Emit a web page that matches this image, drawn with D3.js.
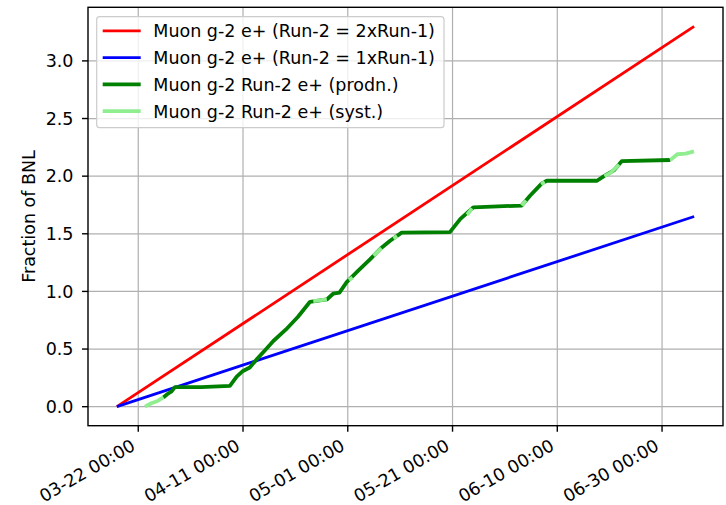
<!DOCTYPE html>
<html>
<head>
<meta charset="utf-8">
<script src="https://cdn.jsdelivr.net/npm/d3@7"></script>
<style>
  body { margin: 0; background: #fff; }
  svg { display: block; font-family: "DejaVu Sans", sans-serif; }
</style>
</head>
<body>
<svg id="chart" width="726" height="505"></svg>
<script>
// expected luminosity lines (start and end of the run)
const runDates = ['2019-03-17 22:00', '2019-07-06 03:00'];
const twoTimesRun1 = [0, 3.3];
const oneTimesRun1 = [0, 1.65];

// production running, cumulative fraction of BNL
const prodnDates = [
  '2019-03-26 19:00', '2019-03-27 14:00', '2019-03-28 07:00', '2019-03-29 00:00',
  '2019-04-03 00:00', '2019-04-08 12:00', '2019-04-09 19:00', '2019-04-11 00:00',
  '2019-04-12 07:00', '2019-04-13 19:00', '2019-04-15 05:00', '2019-04-16 19:00',
  '2019-04-19 05:00', '2019-04-21 12:00', '2019-04-23 19:00', '2019-04-27 00:00',
  '2019-04-28 05:00', '2019-04-29 10:00', '2019-04-30 19:00', '2019-05-03 00:00',
  '2019-05-05 07:00', '2019-05-07 05:00', '2019-05-09 02:00', '2019-05-11 07:00',
  '2019-05-20 12:00', '2019-05-22 12:00', '2019-05-25 00:00', '2019-06-03 05:00',
  '2019-06-04 19:00', '2019-06-07 00:00', '2019-06-08 00:00', '2019-06-17 14:00',
  '2019-06-18 22:00', '2019-06-20 19:00', '2019-06-22 07:00', '2019-07-01 14:00'
];
const prodnValues = [
  0.08, 0.11, 0.13, 0.17,
  0.17, 0.18, 0.26, 0.31,
  0.34, 0.42, 0.49, 0.57,
  0.67, 0.78, 0.91, 0.93,
  0.98, 0.99, 1.08, 1.18,
  1.28, 1.37, 1.44, 1.51,
  1.515, 1.63, 1.73, 1.745,
  1.83, 1.935, 1.96, 1.96,
  2.00, 2.05, 2.13, 2.14
];

// systematics running, null separates the stretches
const systDates = [
  '2019-03-23 07:00', '2019-03-24 12:00', '2019-03-25 17:00', '2019-03-26 19:00', null,
  '2019-04-24 10:00', '2019-04-27 00:00', null,
  '2019-05-01 05:00', '2019-05-01 22:00', null,
  '2019-05-05 22:00', '2019-05-07 10:00', null,
  '2019-05-09 17:00', '2019-05-10 10:00', null,
  '2019-05-23 19:00', '2019-05-24 17:00', null,
  '2019-06-03 05:00', '2019-06-04 00:00', null,
  '2019-06-06 22:00', '2019-06-07 14:00', null,
  '2019-06-19 00:00', '2019-06-20 05:00', '2019-06-21 19:00', null,
  '2019-07-01 14:00', '2019-07-02 22:00', '2019-07-04 12:00', '2019-07-06 02:00'
];
const systValues = [
  0.0, 0.03, 0.05, 0.08, null,
  0.915, 0.93, null,
  1.10, 1.12, null,
  1.31, 1.375, null,
  1.46, 1.48, null,
  1.665, 1.72, null,
  1.745, 1.79, null,
  1.93, 1.95, null,
  2.00, 2.03, 2.10, null,
  2.14, 2.19, 2.195, 2.215
];

const xTickDates = ['2019-03-22 00:00', '2019-04-11 00:00', '2019-05-01 00:00',
  '2019-05-21 00:00', '2019-06-10 00:00', '2019-06-30 00:00'];
const yTicks = [0, 0.5, 1.0, 1.5, 2.0, 2.5, 3.0];

const legendLabels = [
  'Muon g-2 e+ (Run-2 = 2xRun-1)',
  'Muon g-2 e+ (Run-2 = 1xRun-1)',
  'Muon g-2 Run-2 e+ (prodn.)',
  'Muon g-2 Run-2 e+ (syst.)'
];
const legendColors = ['#ff0000', '#0000ff', '#008000', '#90ee90'];
const legendWidths = [2.8, 2.8, 3.8, 3.8];

const parse = d3.timeParse('%Y-%m-%d %H:%M');
const fmt = d3.timeFormat('%m-%d %H:%M');

const plotLeft = 88, plotRight = 723, plotTop = 7.3, plotBottom = 425.7;
const svg = d3.select('#chart');

// matplotlib style 5% margins
const t0 = parse(runDates[0]), t1 = parse(runDates[1]);
const pad = (t1 - t0) * 0.05;
const x = d3.scaleTime()
  .domain([new Date(+t0 - pad), new Date(+t1 + pad)])
  .range([plotLeft, plotRight]);
const yMax = d3.max(twoTimesRun1);
const y = d3.scaleLinear()
  .domain([-yMax * 0.05, yMax * 1.05])
  .range([plotBottom, plotTop]);

// grid
const grid = svg.append('g').attr('stroke', '#b0b0b0').attr('stroke-width', 1.2);
grid.selectAll('line.gx')
  .data(xTickDates.map(parse))
  .enter()
  .append('line')
  .attr('x1', (d) => x(d)).attr('x2', (d) => x(d))
  .attr('y1', plotTop).attr('y2', plotBottom);
grid.selectAll('line.gy')
  .data(yTicks)
  .enter()
  .append('line')
  .attr('x1', plotLeft).attr('x2', plotRight)
  .attr('y1', (d) => y(d)).attr('y2', (d) => y(d));

// lines
const plot = svg.append('g');
const line = d3.line()
  .defined((d) => d[0] !== null && d[1] !== null)
  .x((d) => x(d[0]))
  .y((d) => y(d[1]));

function drawSeries(dates, values, color, width) {
  let pts = dates.map((d, i) => [d ? parse(d) : null, values[i]]);
  plot.append('path')
    .attr('d', line(pts))
    .attr('fill', 'none')
    .attr('stroke', color)
    .attr('stroke-width', width)
    .attr('stroke-linecap', 'butt')
    .attr('stroke-linejoin', 'round');
}

drawSeries(runDates, twoTimesRun1, legendColors[0], legendWidths[0]);
drawSeries(runDates, oneTimesRun1, legendColors[1], legendWidths[1]);
drawSeries(prodnDates, prodnValues, legendColors[2], legendWidths[2]);
drawSeries(systDates, systValues, legendColors[3], legendWidths[3]);

// frame
svg.append('rect')
  .attr('x', plotLeft).attr('y', plotTop)
  .attr('width', plotRight - plotLeft).attr('height', plotBottom - plotTop)
  .attr('fill', 'none').attr('stroke', '#000').attr('stroke-width', 1.4);

// y axis ticks
const yAxis = svg.append('g');
yAxis.selectAll('line')
  .data(yTicks)
  .enter()
  .append('line')
  .attr('x1', plotLeft - 6).attr('x2', plotLeft)
  .attr('y1', (d) => y(d)).attr('y2', (d) => y(d))
  .attr('stroke', '#000').attr('stroke-width', 1.4);
yAxis.selectAll('text')
  .data(yTicks)
  .enter()
  .append('text')
  .attr('x', plotLeft - 14.5)
  .attr('y', (d) => y(d))
  .attr('dy', '0.36em')
  .attr('text-anchor', 'end')
  .attr('font-size', 17.5)
  .attr('fill', '#000')
  .text((d) => d.toFixed(1));

// x axis ticks
const xAxis = svg.append('g');
xAxis.selectAll('line')
  .data(xTickDates.map(parse))
  .enter()
  .append('line')
  .attr('x1', (d) => x(d)).attr('x2', (d) => x(d))
  .attr('y1', plotBottom).attr('y2', plotBottom + 6)
  .attr('stroke', '#000').attr('stroke-width', 1.4);
xAxis.selectAll('text')
  .data(xTickDates.map(parse))
  .enter()
  .append('text')
  .attr('transform', (d) => `translate(${x(d) - 1.8}, ${plotBottom + 12 + 11.5}) rotate(-30)`)
  .attr('text-anchor', 'end')
  .attr('font-size', 17.5)
  .attr('fill', '#000')
  .text((d) => fmt(d));

// y label
svg.append('text')
  .attr('transform', `translate(35, ${(plotTop + plotBottom) / 2}) rotate(-90)`)
  .attr('text-anchor', 'middle')
  .attr('font-size', 17.5)
  .attr('fill', '#000')
  .text('Fraction of BNL');

// legend
const legend = svg.append('g');
legend.append('rect')
  .attr('x', 96.7).attr('y', 16.7)
  .attr('width', 347.3).attr('height', 111)
  .attr('rx', 3)
  .attr('fill', '#fff').attr('fill-opacity', 0.8)
  .attr('stroke', '#cccccc').attr('stroke-width', 1.2);
const rows = legend.selectAll('g.row')
  .data(legendLabels)
  .enter()
  .append('g')
  .attr('transform', (d, i) => `translate(0, ${30.8 + i * 26.8})`);
rows.append('line')
  .attr('x1', 102.7).attr('x2', 140.7)
  .attr('stroke', (d, i) => legendColors[i])
  .attr('stroke-width', (d, i) => legendWidths[i]);
rows.append('text')
  .attr('x', 153.3)
  .attr('dy', '0.36em')
  .attr('font-size', 17.5)
  .attr('fill', '#000')
  .text((d) => d);
</script>
</body>
</html>
